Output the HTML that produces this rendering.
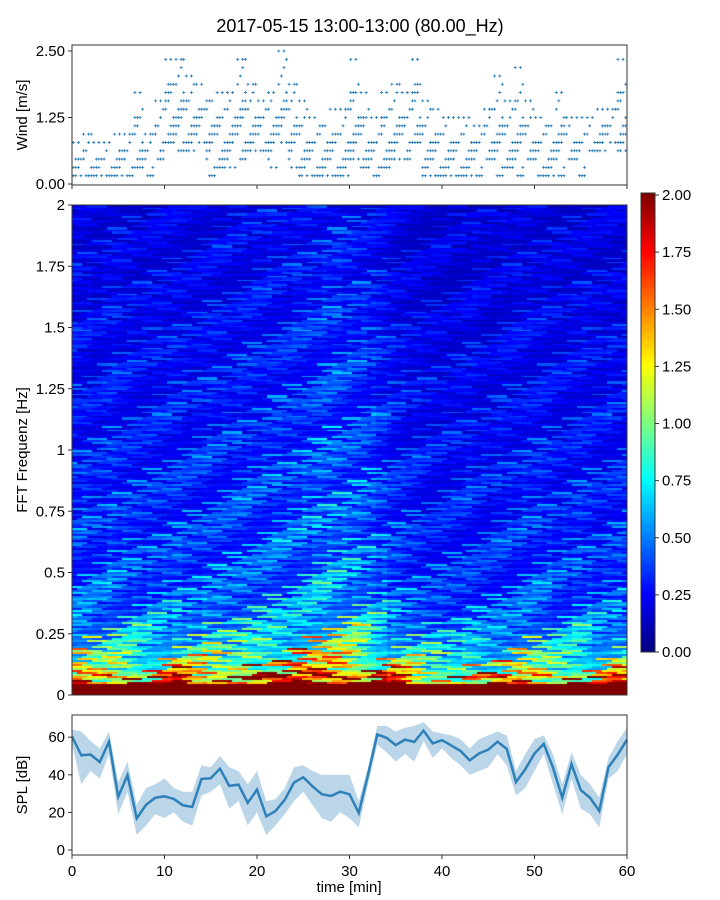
<!DOCTYPE html>
<html><head><meta charset="utf-8">
<style>
body{margin:0;background:#fff;}
#wrap{position:relative;width:720px;height:900px;font-family:"Liberation Sans",sans-serif;color:#000;}
svg text{font-family:"Liberation Sans",sans-serif;}
canvas{position:absolute;}
</style></head>
<body>
<div id="wrap">
<canvas id="spec" width="555" height="490" style="left:72px;top:205px"></canvas>
<canvas id="cbar" width="14" height="459" style="left:641px;top:193px"></canvas>
<svg id="svg" width="720" height="900" style="position:absolute;left:0;top:0"></svg>
</div>
<script>
// ---- data ----
const windMax=[0.76,1.0,0.83,0.83,1.0,1.0,1.7,1.0,1.6,2.4,2.4,2.0,1.9,1.6,1.7,1.65,2.3,1.9,1.5,1.75,2.5,1.8,1.5,1.27,1.14,1.4,1.4,2.3,1.7,1.27,1.75,1.8,1.67,2.3,1.5,1.45,1.27,1.27,1.3,1.1,1.45,2.0,1.6,2.2,1.5,1.3,1.14,1.75,1.27,1.3,1.27,1.36,1.45,2.33];
const windMin=[0.08,0.17,0.08,0.17,0.08,0.14,0.26,0.08,0.45,0.83,0.7,0.7,0.76,0.17,0.33,0.26,0.4,0.58,0.64,0.3,0.83,0.26,0.2,0.17,0.08,0.17,0.2,0.4,0.26,0.08,0.26,0.4,0.5,0.83,0.17,0.2,0.17,0.08,0.17,0.2,0.45,0.2,0.3,0.17,0.5,0.08,0.2,0.2,0.4,0.17,0.58,0.58,0.76,0.58];
const splHigh=[64,63,58,54,63,36,47,24,33,35,38,33,31,31,45,44,50,44,42,35,42,26,27,33,44,45,42,40,40,40,40,26,44,66,66,63,65,66,68,63,62,61,59,54,59,61,63,61,42,51,59,61,51,35,52,40,35,28,49,58,65];
const splLow=[56,35,42,38,51,19,31,8,13,19,17,20,15,13,29,31,35,22,26,13,20,8,13,19,26,31,24,17,15,20,17,12,35,56,52,47,51,47,58,49,54,49,45,40,42,44,51,45,29,33,42,51,35,19,38,22,19,12,38,42,51];
const freqProfile=[2.4,1.5,1.05,0.85,0.68,0.58,0.5,0.45,0.42,0.4,0.38,0.37,0.36,0.35,0.34,0.33,0.33,0.32,0.32,0.31,0.3,0.29,0.28,0.28,0.27,0.27,0.26,0.26,0.25,0.25,0.24,0.24,0.23,0.23,0.22,0.22,0.22,0.21,0.21,0.21];
const timeMod=[1.0,1.0,0.95,1.0,1.05,1.0,1.0,0.95,1.0,1.0,1.0,1.05,1.0,1.0,1.05,1.05,1.05,1.05,1.1,1.1,1.1,1.15,1.15,1.15,1.2,1.25,1.3,1.35,1.35,1.3,1.3,1.25,1.2,1.1,1.0,0.95,0.9,0.9,0.85,0.85,0.85,0.85,0.9,0.9,0.85,0.85,0.9,0.9,0.95,0.95,0.95,0.95,0.9,0.9,0.95,0.95,0.9,0.9,0.95,0.95];
const rowTex=[1.0,0.6,1.5,0.8,1.2,0.55,1.7,0.9,0.7,1.3,1.05,0.6,1.45,0.75,1.15,0.95,0.65,1.3,0.85,1.9,0.7,1.0,0.55,1.25,0.8,1.1,0.6,1.6,0.9,0.7,1.2,0.65,1.0];
const xTicks=[0,10,20,30,40,50,60];
const windTicks=[0,1.25,2.5], windTickLabels=["0.00","1.25","2.50"];
const specTicks=[0,0.25,0.5,0.75,1,1.25,1.5,1.75,2], specTickLabels=["0","0.25","0.5","0.75","1","1.25","1.5","1.75","2"];
const splTicks=[0,20,40,60];
const cbTicks=[0,0.25,0.5,0.75,1,1.25,1.5,1.75,2], cbTickLabels=["0.00","0.25","0.50","0.75","1.00","1.25","1.50","1.75","2.00"];

// ---- scales ----
const X0=72,X1=627;
const xS=t=>X0+(t/60)*(X1-X0);
const wY=v=>184-v*53.2;
const fY=f=>695-f*245;
const sY=d=>850-d*1.88;
const cY=v=>652-v*228.5;

function jet(v){v=Math.max(0,Math.min(1,v));
 const r=Math.max(0,Math.min(1,1.5-Math.abs(4*v-3))),g=Math.max(0,Math.min(1,1.5-Math.abs(4*v-2))),b=Math.max(0,Math.min(1,1.5-Math.abs(4*v-1)));
 return `rgb(${r*255|0},${g*255|0},${b*255|0})`;}

// spectrogram
const ctx=document.getElementById('spec').getContext('2d');
const NR=245,NC=111;
for(let c=0;c<NC;c++){const t=(c+0.5)/NC*60;const tm=timeMod[Math.min(59,Math.floor(t))];
 for(let r=0;r<NR;r++){const f=(r+0.5)/NR*2;const fp=freqProfile[Math.min(39,Math.floor(f/0.05))];
  const seg=Math.floor((c+(r*13)%7)/4);
  const tex=rowTex[(r*5+seg*3)%rowTex.length];
  const v=fp*tm*(f<0.05?1:tex);
  ctx.fillStyle=jet(v/2);
  const x=xS(t-30/NC)-X0,y=fY(f+1/NR)-205;
  ctx.fillRect(Math.floor(x),Math.floor(y),Math.ceil(555/NC)+1,Math.ceil(490/NR)+1);}}
// colorbar
const cc=document.getElementById('cbar').getContext('2d');
for(let i=0;i<459;i++){cc.fillStyle=jet(1-i/458);cc.fillRect(0,i,14,1);}

const svg=document.getElementById('svg');const NS='http://www.w3.org/2000/svg';
function el(tag,a,parent){const e=document.createElementNS(NS,tag);for(const k in a)e.setAttribute(k,a[k]);(parent||svg).appendChild(e);return e;}
function txt(s,a,parent){const e=el('text',a,parent);e.textContent=s;return e;}

// title
const ti=txt('2017-05-15 13:00-13:00 (80.00_Hz)',{x:360,y:32,'font-size':18,'text-anchor':'middle'});


// wind scatter
const wg=el('g',{});
const step=2.5/16;
windMax.forEach((mx,i)=>{const mn=windMin[i];const n=windMax.length;
 const qa=Math.round(mn/step),qb=Math.round(mx/step);
 for(let s=0;s<4;s++){const t=(i+s/4+0.12)/n*60;
  for(let q=qa;q<=qb;q++){
   const k=(q*7+s*5+i*3)%6;
   const isEdge=(q===qb&&s%2===0)||(q===qa&&s%2===1);
   if(!isEdge && k>2)continue;
   if(q>qa+ (qb-qa)*0.7 && !isEdge && k>0)continue;
   const x=xS(t),y=wY(q*step);
   const p=el('path',{d:`M${x-1.5},${y}h3M${x},${y-1.5}v3`,stroke:'#1f77b4','stroke-width':0.8},wg);
   }}});

// spl band
const n=splHigh.length;
let dpath='';splHigh.forEach((v,i)=>{dpath+=(i?'L':'M')+xS(i/(n-1)*60)+','+sY(v);});
for(let i=n-1;i>=0;i--)dpath+='L'+xS(i/(n-1)*60)+','+sY(splLow[i]);
const band=el('path',{d:dpath+'Z',fill:'#1f77b4','fill-opacity':0.3});

let lp='';for(let i=0;i<n;i++){const m=(splHigh[i]*0.55+splLow[i]*0.45);lp+=(i?'L':'M')+xS(i/(n-1)*60)+','+sY(m);}
const sl=el('path',{d:lp,fill:'none',stroke:'#1f77b4','stroke-width':2.5,'stroke-opacity':0.9});


// frames
[[45,185,'wind-axes-frame'],[205,695,'spectrogram-axes-frame'],[715,855,'spl-axes-frame']].forEach(([t,b,nm])=>{
 const r=el('rect',{x:X0,y:t,width:X1-X0,height:b-t,fill:'none',stroke:'#333','stroke-width':1});
 });
const cf=el('rect',{x:641,y:193,width:14,height:459,fill:'none',stroke:'#333'});


function yTicks(vals,labels,fn,name){vals.forEach((v,i)=>{const y=fn(v);
 el('line',{x1:X0-4,x2:X0,y1:y,y2:y,stroke:'#333'});
 const t=txt(labels[i],{x:X0-7,y:y+5,'font-size':15,'text-anchor':'end'});
 });}
yTicks(windTicks,windTickLabels,wY,'wind-y-tick-label');
yTicks(specTicks,specTickLabels,fY,'freq-y-tick-label');
yTicks(splTicks,splTicks.map(String),sY,'spl-y-tick-label');
xTicks.forEach(v=>{const x=xS(v);
 el('line',{x1:x,x2:x,y1:185,y2:189,stroke:'#333'});
 el('line',{x1:x,x2:x,y1:855,y2:859,stroke:'#333'});
 const t=txt(String(v),{x:x,y:876,'font-size':15,'text-anchor':'middle'});
 });
cbTicks.forEach((v,i)=>{const y=cY(v);
 el('line',{x1:655,x2:659,y1:y,y2:y,stroke:'#333'});
 const t=txt(cbTickLabels[i],{x:662,y:y+5,'font-size':15});
 });

function ylab(s,cy,name){const t=txt(s,{x:0,y:0,'font-size':15,'text-anchor':'middle',transform:`translate(27,${cy}) rotate(-90)`});
 }
ylab('Wind [m/s]',115,'wind-y-axis-title');
ylab('FFT Frequenz [Hz]',450,'freq-y-axis-title');
ylab('SPL [dB]',785,'spl-y-axis-title');
const xl=txt('time [min]',{x:349,y:892,'font-size':15,'text-anchor':'middle'});

</script>
</body></html>
